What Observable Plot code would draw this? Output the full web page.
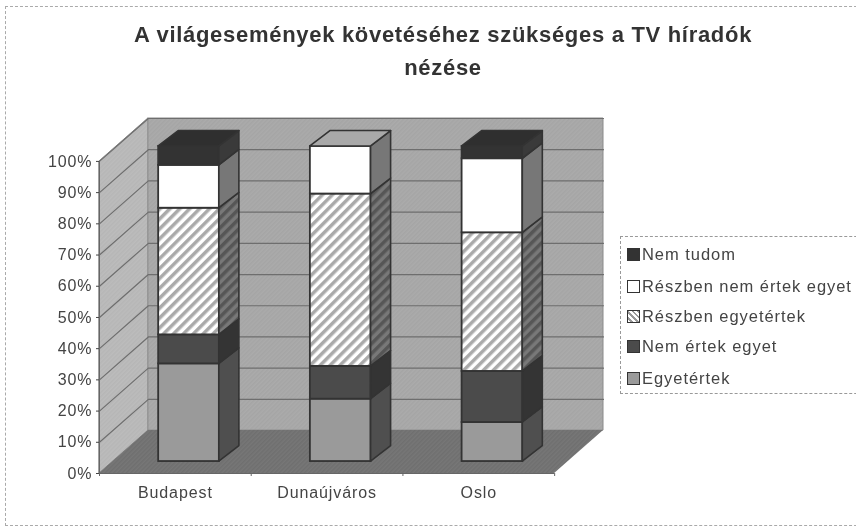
<!DOCTYPE html>
<html><head><meta charset="utf-8">
<script src="https://cdn.jsdelivr.net/npm/d3@7"></script>
<script src="https://cdn.jsdelivr.net/npm/@observablehq/plot@0.6"></script>
<style>
html,body{margin:0;padding:0;background:#fff;}
#page{position:relative;width:856px;height:530px;overflow:hidden;font-family:"Liberation Sans",Arial,sans-serif;color:#3c3c3c;filter:blur(.4px);}
#frame{position:absolute;left:5px;top:6px;width:900px;height:518px;border:1px dashed #aaa;}
#plot{position:absolute;left:0;top:0;}
#plot svg text{letter-spacing:.9px;}
#title{position:absolute;left:85px;width:716px;top:18px;text-align:center;font-weight:bold;font-size:22px;letter-spacing:.7px;line-height:33px;color:#333;}
#legend{position:absolute;left:620px;top:236px;width:300px;height:156px;border:1px dashed #999;background:#fff;}
.row{position:absolute;left:6px;height:18px;font-size:16.5px;line-height:18px;white-space:nowrap;letter-spacing:.95px;color:#444;}
.sw{display:inline-block;width:11px;height:11px;border:1px solid #333;margin-right:2px;vertical-align:-1px;}
</style></head>
<body>
<div id="page">
  <div id="frame"></div>
  <div id="plot"></div>
  <div id="title">A világesemények követéséhez szükséges a TV híradók<br>nézése</div>
  <div id="legend"></div>
</div>
<script>
const cities = ["Budapest", "Dunaújváros", "Oslo"];
const seriesNames = ["Egyetértek", "Nem értek egyet", "Részben egyetértek", "Részben nem értek egyet", "Nem tudom"];
const egyetertek = [31.0, 19.8, 12.4];
const nemErtek = [9.2, 10.4, 16.2];
const reszbenEgyet = [40.2, 54.7, 44.0];
const reszbenNem = [13.6, 15.1, 23.5];
const nemTudom = [6.0, 0, 3.9];
const yTicks = [0, 10, 20, 30, 40, 50, 60, 70, 80, 90, 100];
const seriesValues = [egyetertek, nemErtek, reszbenEgyet, reszbenNem, nemTudom];

const frontFill = ["#9a9a9a", "#4b4b4b", "url(#hatchFront)", "#ffffff", "#333333"];
const sideFill = ["#4f4f4f", "#343434", "url(#hatchSide)", "#777777", "#3a3a3a"];
const topFill = ["#9a9a9a", "#4b4b4b", "#aaaaaa", "#a9a9a9", "#2f2f2f"];
const legendCss = [
  "#9a9a9a", "#4b4b4b",
  "repeating-linear-gradient(45deg,#fff 0 2px,#999 2px 4px)",
  "#ffffff", "#333333"];

// 3-D box geometry, in data units of the x (category) and y (percent) scales
const wallDX = 0.322, wallDY = 13.75;
const barOffX = 0.09, barOffY = 3.83, barDX = 0.132, barDY = 4.95;
const barHalf = 0.2, barK = 1.0096;

const defs = () => {
  const d = d3.create("svg:defs");
  const pat = (id, a, b, w, s) => {
    const p = d.append("pattern").attr("id", id).attr("patternUnits", "userSpaceOnUse")
      .attr("width", w).attr("height", w).attr("patternTransform", "rotate(45)");
    p.append("rect").attr("width", w).attr("height", w).attr("fill", a);
    p.append("rect").attr("width", s).attr("height", w).attr("fill", b);
  };
  pat("hatchFront", "#ffffff", "#aaaaaa", 7, 3.5);
  pat("hatchSide", "#787878", "#565656", 7, 3.5);
  pat("wallTex", "#ababab", "#a5a5a5", 3, 1.5);
  pat("sideTex", "#bcbcbc", "#b6b6b6", 3, 1.5);
  pat("floorTex", "#777777", "#6f6f6f", 3, 1.5);
  return d.node();
};

// wall faces
const backWall = [{x: wallDX, a: wallDY, b: 100 + wallDY}, {x: 3 + wallDX, a: wallDY, b: 100 + wallDY}];
const leftWall = [{x: 0, a: 0, b: 100}, {x: wallDX, a: wallDY, b: 100 + wallDY}];
const floor = [{y: 0, a: 0, b: 3}, {y: wallDY, a: wallDX, b: 3 + wallDX}];
const gridLines = yTicks.flatMap(v => [
  {v, x: 0, y: v}, {v, x: wallDX, y: v + wallDY}, {v, x: 3 + wallDX, y: v + wallDY}
]);

// bar faces
const marks = [defs];
marks.push(
  Plot.areaY(backWall, {x: "x", y1: "a", y2: "b", fill: "url(#wallTex)", stroke: "#8a8a8a", strokeWidth: 1}),
  Plot.areaY(leftWall, {x: "x", y1: "a", y2: "b", fill: "url(#sideTex)", stroke: "#8a8a8a", strokeWidth: 1}),
  Plot.areaX(floor, {y: "y", x1: "a", x2: "b", fill: "url(#floorTex)"}),
  Plot.line(gridLines.filter(d => d.v > 0), {x: "x", y: "y", z: "v", stroke: "#6e6e6e", strokeWidth: 1.2})
);
cities.forEach((city, c) => {
  const left = c + 0.5 - barHalf + barOffX, right = c + 0.5 + barHalf + barOffX;
  let base = 0;
  seriesValues.forEach((vals, s) => {
    const v = vals[c];
    if (v <= 0) return;
    const y0 = base * barK + barOffY, y1 = (base + v) * barK + barOffY;
    marks.push(
      Plot.rect([{}], {x1: () => left, x2: () => right, y1: () => y0, y2: () => y1,
        fill: frontFill[s], stroke: "#333", strokeWidth: 1.8}),
      Plot.areaY([{x: right, a: y0, b: y1}, {x: right + barDX, a: y0 + barDY, b: y1 + barDY}],
        {x: "x", y1: "a", y2: "b", fill: sideFill[s], stroke: "#333", strokeWidth: 1.6})
    );
    base += v;
  });
  const topIdx = seriesValues.reduce((k, vals, s) => vals[c] > 0 ? s : k, 0);
  const t = base * barK + barOffY;
  marks.push(
    Plot.areaX([{y: t, a: left, b: right}, {y: t + barDY, a: left + barDX, b: right + barDX}],
      {y: "y", x1: "a", x2: "b", fill: topFill[topIdx], stroke: "#333", strokeWidth: 1.6})
  );
});
marks.push(
  Plot.ruleX([0], {y1: 0, y2: 100, stroke: "#666", strokeWidth: 1}),
  Plot.ruleY([0], {x1: 0, x2: 3, stroke: "#666", strokeWidth: 1}),
  Plot.axisY({ticks: yTicks, tickFormat: d => d + "%", tickSize: 3, tickPadding: 4, label: null, color: "#444", fontSize: 16}),
  Plot.axisX({ticks: [0, 1, 2, 3], tickFormat: () => "", tickSize: 3, label: null, color: "#666"}),
  Plot.axisX({ticks: cities.map((_, i) => i + 0.5), tickFormat: d => cities[Math.floor(d)], tickSize: 0, tickPadding: 13, label: null, color: "#444", fontSize: 16})
);

const chart = Plot.plot({
  width: 856, height: 530,
  marginLeft: 99, marginRight: 253, marginTop: 118, marginBottom: 57,
  style: {background: "transparent", fontFamily: "'Liberation Sans',Arial,sans-serif", fontSize: "15px"},
  x: {type: "linear", domain: [0, 3 + wallDX], range: [99, 603]},
  y: {type: "linear", domain: [0, 100 + wallDY], range: [473, 118]},
  marks
});
document.getElementById("plot").appendChild(chart);

const legend = document.getElementById("legend");
const rowTops = [8, 40, 70, 100, 132];
[4, 3, 2, 1, 0].forEach((s, i) => {
  const r = document.createElement("div");
  r.className = "row";
  r.style.top = rowTops[i] + "px";
  const sw = document.createElement("span");
  sw.className = "sw";
  sw.style.background = legendCss[s];
  r.appendChild(sw);
  r.appendChild(document.createTextNode(seriesNames[s]));
  legend.appendChild(r);
});
</script>
</body></html>
